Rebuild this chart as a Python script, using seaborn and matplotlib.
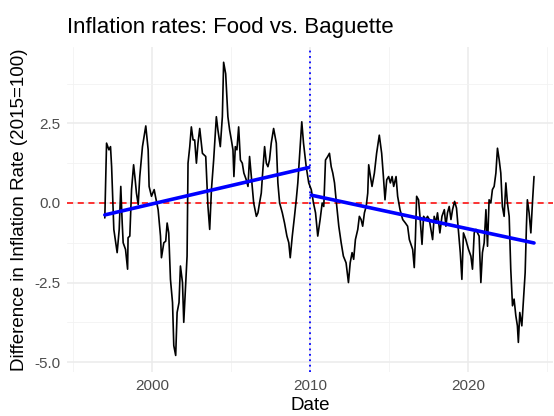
import matplotlib
matplotlib.use("Agg")
import matplotlib.pyplot as plt
from matplotlib.ticker import MultipleLocator
import seaborn as sns
import pandas as pd

# values (decimal year, difference in inflation rate)
years = [
    1997.03, 1997.14, 1997.29, 1997.39, 1997.46, 1997.60, 1997.81, 1997.94, 1998.04, 1998.13,
    1998.19, 1998.34, 1998.47, 1998.50, 1998.61, 1998.72, 1998.85, 1998.95, 1999.03, 1999.14,
    1999.24, 1999.41, 1999.62, 1999.77, 1999.83, 1999.98, 2000.15, 2000.23, 2000.40, 2000.55,
    2000.61, 2000.76, 2000.88, 2000.97, 2001.07, 2001.18, 2001.31, 2001.39, 2001.51, 2001.60,
    2001.72, 2001.81, 2001.94, 2002.02, 2002.15, 2002.23, 2002.29, 2002.40, 2002.50, 2002.61,
    2002.71, 2002.82, 2002.92, 2003.03, 2003.20, 2003.41, 2003.55, 2003.66, 2003.77, 2003.91,
    2004.08, 2004.18, 2004.33, 2004.46, 2004.54, 2004.67, 2004.81, 2004.92, 2005.03, 2005.13,
    2005.19, 2005.28, 2005.38, 2005.49, 2005.60, 2005.72, 2005.82, 2005.97, 2006.08, 2006.18,
    2006.29, 2006.44, 2006.61, 2006.71, 2006.81, 2006.92, 2007.02, 2007.13, 2007.24, 2007.34,
    2007.44, 2007.55, 2007.70, 2007.87, 2007.97, 2008.08, 2008.25, 2008.39, 2008.54, 2008.66,
    2008.75, 2008.88, 2009.02, 2009.13, 2009.23, 2009.34, 2009.48, 2009.59, 2009.76, 2009.92,
    2010.08, 2010.22, 2010.35, 2010.49, 2010.64, 2010.77, 2010.87, 2010.98, 2011.12, 2011.23,
    2011.34, 2011.44, 2011.55, 2011.65, 2011.82, 2011.97, 2012.11, 2012.28, 2012.43, 2012.54,
    2012.66, 2012.76, 2012.87, 2013.02, 2013.12, 2013.23, 2013.33, 2013.44, 2013.55, 2013.65,
    2013.71, 2013.82, 2013.92, 2014.07, 2014.21, 2014.38, 2014.53, 2014.64, 2014.74, 2014.85,
    2014.97, 2015.08, 2015.19, 2015.29, 2015.44, 2015.54, 2015.69, 2015.86, 2016.03, 2016.17,
    2016.28, 2016.49, 2016.59, 2016.66, 2016.74, 2016.86, 2016.95, 2017.08, 2017.18, 2017.33,
    2017.43, 2017.54, 2017.75, 2017.85, 2017.96, 2018.06, 2018.21, 2018.34, 2018.49, 2018.59,
    2018.69, 2018.80, 2018.91, 2019.01, 2019.14, 2019.26, 2019.39, 2019.50, 2019.60, 2019.70,
    2019.85, 2020.02, 2020.17, 2020.27, 2020.38, 2020.49, 2020.59, 2020.69, 2020.80, 2020.90,
    2021.01, 2021.12, 2021.22, 2021.32, 2021.43, 2021.53, 2021.64, 2021.75, 2021.85, 2021.96,
    2022.06, 2022.16, 2022.27, 2022.38, 2022.48, 2022.59, 2022.69, 2022.80, 2022.90, 2023.01,
    2023.11, 2023.17, 2023.26, 2023.39, 2023.47, 2023.60, 2023.68, 2023.74, 2023.85, 2023.96,
    2024.06, 2024.16,
]
diff_rate = [
    -0.47, 1.88, 1.67, 1.77, 1.14, -0.83, -1.56, -0.83, 0.52, -0.63,
    -1.25, -1.46, -2.08, -1.09, -1.04, 0.42, 1.20, 0.73, 0.31, -0.05,
    0.83, 1.77, 2.42, 1.67, 0.52, 0.21, 0.42, 0.21, -0.21, -1.04,
    -1.72, -1.25, -1.20, -0.63, -0.94, -2.40, -3.13, -4.48, -4.79, -3.44,
    -3.13, -1.98, -2.50, -3.75, -2.50, -1.67, 1.25, 1.77, 2.39, 1.98,
    1.98, 1.25, 1.88, 2.34, 1.56, 1.46, -0.11, -0.83, 0.42, 1.35,
    2.71, 2.29, 1.77, 2.71, 4.42, 4.06, 2.71, 2.29, 1.98, 1.67,
    0.83, 1.77, 1.67, 2.39, 1.35, 1.25, 0.94, 0.73, 0.52, 1.46,
    0.83, 0.00, -0.42, -0.31, 0.00, 0.31, 1.04, 1.77, 1.25, 1.14,
    1.35, 1.88, 2.34, 1.88, 0.63, 0.00, -0.31, -0.63, -1.04, -1.25,
    -1.72, -1.04, -0.42, 0.10, 0.63, 1.46, 2.55, 1.88, 1.14, 0.63,
    0.42, 0.00, -0.31, -1.04, -0.52, 0.00, -0.11, 1.35, 1.46, 1.56,
    1.14, 0.94, 0.63, 0.10, -0.73, -1.25, -1.67, -1.88, -2.50, -1.88,
    -1.56, -1.77, -1.15, -0.83, -0.42, -0.52, -0.73, -0.31, -0.11, 0.31,
    1.20, 0.83, 0.52, 0.94, 1.56, 2.13, 1.56, 0.83, 0.10, 0.73,
    0.83, 0.63, 0.83, 0.52, 0.83, 0.21, -0.21, -0.52, -0.63, -0.73,
    -1.15, -1.46, -2.03, -1.15, 0.21, 0.10, -0.42, -1.30, -0.42, -0.52,
    -0.42, -0.52, -1.15, -0.42, -0.63, -0.31, -0.94, -0.42, -0.21, -0.73,
    -0.31, -0.11, -0.52, -0.21, 0.05, -0.16, -0.94, -1.56, -2.40, -0.94,
    -1.15, -1.46, -1.67, -2.08, -0.94, -0.83, -0.94, -1.04, -2.50, -1.56,
    -1.25, -0.21, -1.36, 0.10, 0.00, 0.42, 0.52, 0.94, 1.72, 1.35,
    0.94, -0.11, -0.42, 0.63, 0.00, -0.42, -2.08, -3.23, -3.02, -3.54,
    -3.86, -4.38, -3.44, -3.86, -3.23, -2.19, -0.73, 0.10, -0.31, -0.94,
    0.00, 0.83,
]
break_year = 2010.0
y_ticks = [-5.0, -2.5, 0.0, 2.5]
x_ticks = [2000, 2010, 2020]

df = pd.DataFrame({"date": years, "diff": diff_rate})
before = df[df["date"] < break_year]
after = df[df["date"] >= break_year]

sns.set_theme(style="whitegrid")
plt.rcParams["font.family"] = ["Liberation Sans", "DejaVu Sans"]
plt.rcParams["axes.unicode_minus"] = False

fig, ax = plt.subplots(figsize=(5.54, 4.16), dpi=100)
fig.subplots_adjust(left=67 / 554, right=553 / 554, top=1 - 47 / 416, bottom=1 - 372 / 416)

sns.lineplot(data=df, x="date", y="diff", color="black", linewidth=1.2, ax=ax, zorder=3)
ax.axhline(0, color="red", linestyle=(0, (4, 3)), linewidth=1.1, zorder=2)
ax.axvline(break_year, color="blue", linestyle=(0, (1, 2)), linewidth=1.3, zorder=2)

# separate linear trend before and after 2010
for part in [before, after]:
    sns.regplot(data=part, x="date", y="diff", scatter=False, ci=None, truncate=True,
                line_kws={"color": "blue", "linewidth": 2.6, "zorder": 4}, ax=ax)

ax.set_xlim(1994.64, 2025.36)
ax.set_ylim(-5.31, 4.9)
ax.set_xticks(x_ticks)
ax.set_yticks(y_ticks)
ax.set_yticklabels([f"{v:.1f}" for v in y_ticks])
ax.xaxis.set_minor_locator(MultipleLocator(5))
ax.yaxis.set_minor_locator(MultipleLocator(1.25))
ax.grid(which="major", color="#EBEBEB", linewidth=1.1)
ax.grid(which="minor", color="#F2F2F2", linewidth=0.6)
ax.set_axisbelow(True)
for s in ax.spines.values():
    s.set_visible(False)
ax.tick_params(which="both", length=0, labelsize=11, labelcolor="#4D4D4D")
ax.tick_params(axis="x", pad=5)
ax.tick_params(axis="y", pad=5)

ax.set_xlabel("Date", fontsize=13.5, color="black", labelpad=3)
ax.set_ylabel("Difference in Inflation Rate (2015=100)", fontsize=13.5, color="black", labelpad=4)
ax.set_title("Inflation rates: Food vs. Baguette", fontsize=16, loc="left", pad=10, color="black")

fig.savefig("out.png", dpi=100)
